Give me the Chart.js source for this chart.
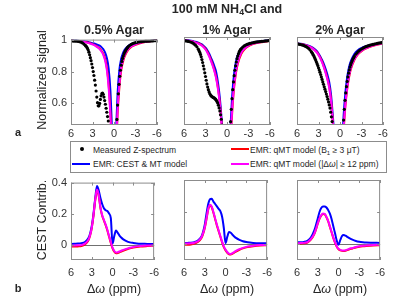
<!DOCTYPE html>
<html>
<head>
<meta charset="utf-8">
<script src="https://cdn.jsdelivr.net/npm/chart.js@4.4.1/dist/chart.umd.min.js"></script>
<style>
  body { margin: 0; background: #fff; }
  #page { position: relative; width: 400px; height: 300px; overflow: hidden;
          font-family: "Liberation Sans", Arial, sans-serif; color: #262626; }
  #page canvas { position: absolute; }
  .t { position: absolute; white-space: nowrap; line-height: 1; }
  .c { transform: translate(-50%, -50%); }
  .b { font-weight: bold; }
  .rot { transform: translate(-50%, -50%) rotate(-90deg); }
  sub { font-size: 0.7em; vertical-align: -0.3em; line-height: 0; }
  #legend { position: absolute; left: 70px; top: 141px; width: 315px; height: 30px;
            border: 1px solid #8c8c8c; background: #fff; }
  .lg { position: absolute; font-size: 8.5px; transform: translateY(-50%); white-space: nowrap; line-height: 1; }
  .sw { position: absolute; height: 2px; width: 18px; }
  .dot { position: absolute; width: 4px; height: 4px; border-radius: 50%; background: #000; }
</style>
</head>
<body>
<div id="page">
  <canvas id="z05"></canvas>
  <canvas id="z1"></canvas>
  <canvas id="z2"></canvas>
  <canvas id="c05"></canvas>
  <canvas id="c1"></canvas>
  <canvas id="c2"></canvas>

  <div class="t c b" style="left:227px;top:9px;font-size:12.5px;">100 mM NH<sub>4</sub>Cl and</div>
  <div class="t c b" style="left:114px;top:30px;font-size:12.5px;">0.5% Agar</div>
  <div class="t c b" style="left:227px;top:30px;font-size:12.5px;">1% Agar</div>
  <div class="t c b" style="left:340px;top:30px;font-size:12.5px;">2% Agar</div>

  <div class="t rot" style="left:42px;top:80px;font-size:12.5px;">Normalized signal</div>
  <div class="t rot" style="left:42px;top:220px;font-size:12.5px;">CEST Contrib.</div>

  <div class="t c" style="left:114px;top:289px;font-size:12.5px;">&Delta;<i>&omega;</i> (ppm)</div>
  <div class="t c" style="left:227px;top:289px;font-size:12.5px;">&Delta;<i>&omega;</i> (ppm)</div>
  <div class="t c" style="left:340px;top:289px;font-size:12.5px;">&Delta;<i>&omega;</i> (ppm)</div>

  <div class="t c b" style="left:18px;top:132px;font-size:11px;">a</div>
  <div class="t c b" style="left:18px;top:288px;font-size:11px;">b</div>

  <div id="legend"></div>
  <div class="dot" style="left:80px;top:147.3px;"></div>
  <div class="lg" style="left:93px;top:149.5px;">Measured Z-spectrum</div>
  <div class="sw" style="left:72px;top:163px;background:#0000ff;"></div>
  <div class="lg" style="left:93px;top:164px;">EMR: CEST &amp; MT model</div>
  <div class="sw" style="left:231px;top:148px;background:#ff0000;"></div>
  <div class="lg" style="left:250px;top:149.5px;">EMR: qMT model (B<sub>1</sub> &ge; 3 &mu;T)</div>
  <div class="sw" style="left:231px;top:163px;background:#ff00ff;"></div>
  <div class="lg" style="left:250px;top:164px;">EMR: qMT model (|&Delta;<i>&omega;</i>| &ge; 12 ppm)</div>
</div>

<script>
// frequency offsets (ppm)
const offsetsMeasured = [6,5.8,5.6,5.4,5.2,5,4.8,4.6,4.4,4.2,
  4,3.9,3.8,3.7,3.6,3.5,3.4,3.3,3.2,3.1,3,2.9,2.8,2.7,2.6,2.5,2.4,2.3,2.2,2.1,
  2,1.9,1.8,1.7,1.6,1.5,1.4,1.3,1.2,1.1,1,0.9,0.8,0.7,0.6,0.5,0.4,0.3,0.2,0.1,
  0,-0.1,-0.2,-0.3,-0.4,-0.5,-0.6,-0.7,-0.8,-0.9,-1,-1.1,-1.2,-1.3,-1.4,-1.5,-1.6,-1.7,-1.8,-1.9,-2,
  -2.2,-2.4,-2.6,-2.8,-3,-3.2,-3.4,-3.6,-3.8,-4,-4.2,-4.4,-4.6,-4.8,-5,-5.2,-5.4,-5.6,-5.8,-6];
const offsetsModel = [6,5.5,5,4.5,4,3.5,3.25,3,2.75,2.5,2.25,2,1.75,1.5,1.25,1,0.75,0.5,0.25,0,
  -0.25,-0.5,-0.75,-1,-1.25,-1.5,-2,-2.5,-3,-3.5,-4,-5,-6];

const xTicks = [6, 3, 0, -3, -6];
const zTicks = [0.6, 0.8, 1];
const cestTicks = [0, 0.2, 0.4];

// measured Z-spectra
const measured05 = [0.992,0.992,0.991,0.991,0.990,0.989,0.987,0.984,0.979,0.972,
  0.964,0.959,0.953,0.945,0.935,0.921,0.905,0.887,0.868,0.847,
  0.825,0.800,0.775,0.746,0.715,0.678,0.640,0.605,0.585,0.585,
  0.600,0.625,0.648,0.661,0.665,0.657,0.640,0.618,0.595,0.570,
  0.545,0.518,0.490,0.450,0.400,0.340,0.280,0.200,0.120,0.060,
  0.040,0.100,0.220,0.370,0.500,0.590,0.660,0.720,0.770,0.808,
  0.840,0.863,0.882,0.897,0.910,0.921,0.930,0.938,0.945,0.951,0.956,
  0.964,0.970,0.975,0.978,0.981,0.983,0.985,0.986,0.987,0.988,
  0.989,0.990,0.990,0.991,0.991,0.992,0.992,0.993,0.993,0.994];
const measured1 = [0.978,0.977,0.975,0.973,0.971,0.968,0.964,0.958,0.950,0.940,
  0.926,0.917,0.907,0.894,0.880,0.863,0.845,0.825,0.805,0.782,
  0.760,0.737,0.715,0.696,0.680,0.666,0.655,0.647,0.642,0.638,
  0.635,0.632,0.630,0.626,0.622,0.616,0.608,0.598,0.585,0.569,
  0.550,0.527,0.500,0.465,0.420,0.365,0.300,0.230,0.160,0.115,
  0.100,0.140,0.220,0.310,0.400,0.485,0.560,0.625,0.680,0.727,
  0.765,0.798,0.825,0.848,0.868,0.884,0.898,0.909,0.918,0.925,0.930,
  0.939,0.946,0.951,0.955,0.958,0.961,0.963,0.965,0.967,0.969,
  0.970,0.971,0.972,0.973,0.974,0.975,0.976,0.977,0.978,0.979];
const measured2 = [0.958,0.957,0.955,0.953,0.950,0.947,0.943,0.938,0.931,0.922,
  0.911,0.904,0.897,0.889,0.880,0.870,0.860,0.849,0.838,0.826,
  0.813,0.800,0.786,0.772,0.757,0.742,0.727,0.712,0.697,0.683,
  0.668,0.653,0.638,0.622,0.605,0.587,0.568,0.543,0.515,0.486,
  0.455,0.423,0.390,0.355,0.320,0.280,0.240,0.205,0.180,0.170,
  0.170,0.200,0.260,0.340,0.420,0.495,0.560,0.615,0.660,0.698,
  0.730,0.757,0.780,0.800,0.817,0.832,0.845,0.856,0.866,0.874,0.882,
  0.895,0.905,0.914,0.921,0.927,0.932,0.937,0.941,0.944,0.947,
  0.950,0.953,0.955,0.957,0.959,0.961,0.963,0.964,0.966,0.967];

// model Z-spectra
const zCestMt05 = [0.995,0.994,0.993,0.991,0.988,0.984,0.981,0.978,0.975,0.972,0.967,0.962,0.953,0.940,0.920,0.885,0.820,0.680,0.400,0.100,0.380,0.660,0.810,0.880,0.915,0.937,0.962,0.974,0.980,0.985,0.988,0.992,0.995];
const zQmtB1_05 = [0.993,0.992,0.990,0.988,0.985,0.980,0.976,0.972,0.967,0.961,0.953,0.944,0.930,0.912,0.880,0.825,0.720,0.540,0.290,0.080,0.260,0.530,0.700,0.805,0.860,0.896,0.937,0.957,0.968,0.976,0.982,0.989,0.994];
const zQmtDw05 = [0.993,0.992,0.990,0.987,0.984,0.978,0.974,0.970,0.965,0.958,0.950,0.940,0.925,0.905,0.870,0.810,0.700,0.520,0.280,0.080,0.280,0.560,0.720,0.820,0.870,0.905,0.942,0.960,0.970,0.978,0.983,0.990,0.994];

const zCestMt1 = [0.982,0.980,0.977,0.972,0.966,0.955,0.946,0.935,0.920,0.900,0.875,0.850,0.820,0.785,0.720,0.630,0.500,0.330,0.150,0.080,0.220,0.460,0.660,0.780,0.850,0.890,0.930,0.948,0.958,0.965,0.969,0.975,0.980];
const zQmtB1_1 = [0.980,0.978,0.975,0.969,0.962,0.950,0.940,0.928,0.911,0.889,0.862,0.832,0.797,0.752,0.688,0.600,0.470,0.315,0.140,0.070,0.180,0.380,0.560,0.695,0.780,0.836,0.898,0.928,0.945,0.955,0.962,0.970,0.977];
const zQmtDw1 = [0.980,0.977,0.974,0.968,0.960,0.947,0.937,0.924,0.906,0.883,0.855,0.825,0.790,0.745,0.680,0.590,0.460,0.310,0.140,0.070,0.190,0.400,0.580,0.710,0.790,0.845,0.905,0.932,0.948,0.957,0.963,0.971,0.977];

const zCestMt2 = [0.962,0.959,0.955,0.949,0.940,0.925,0.915,0.900,0.882,0.860,0.835,0.805,0.770,0.725,0.650,0.520,0.380,0.270,0.190,0.160,0.320,0.520,0.660,0.755,0.815,0.852,0.897,0.920,0.933,0.942,0.949,0.958,0.966];
const zQmtB1_2 = [0.960,0.957,0.953,0.946,0.937,0.920,0.909,0.893,0.874,0.850,0.820,0.786,0.746,0.697,0.617,0.485,0.355,0.250,0.180,0.150,0.240,0.425,0.580,0.682,0.752,0.803,0.860,0.894,0.914,0.928,0.937,0.951,0.961];
const zQmtDw2 = [0.960,0.956,0.952,0.945,0.935,0.918,0.906,0.890,0.870,0.845,0.815,0.780,0.740,0.690,0.610,0.480,0.350,0.250,0.180,0.150,0.250,0.440,0.590,0.690,0.760,0.810,0.865,0.898,0.917,0.930,0.939,0.952,0.962];

// CEST contribution
const cestCestMt05 = [0.004,0.005,0.006,0.009,0.016,0.040,0.070,0.120,0.200,0.300,0.378,0.350,0.300,0.262,0.235,0.222,0.216,0.200,0.170,0.005,0.055,0.090,0.075,0.058,0.045,0.035,0.022,0.014,0.010,0.007,0.005,0.004,0.003];
const cestQmtB1_05 = [-0.013,-0.013,-0.012,-0.010,0.000,0.025,0.056,0.106,0.186,0.286,0.350,0.315,0.236,0.186,0.155,0.125,0.090,0.050,0.010,-0.025,-0.047,-0.057,-0.055,-0.050,-0.045,-0.040,-0.032,-0.025,-0.020,-0.016,-0.013,-0.010,-0.008];
const cestQmtDw05 = [-0.006,-0.006,-0.005,-0.003,0.006,0.030,0.060,0.110,0.190,0.290,0.355,0.320,0.240,0.190,0.160,0.130,0.095,0.055,0.015,-0.020,-0.042,-0.052,-0.050,-0.045,-0.040,-0.036,-0.028,-0.021,-0.016,-0.012,-0.010,-0.007,-0.005];

const cestCestMt1 = [0.006,0.007,0.008,0.012,0.022,0.045,0.075,0.120,0.190,0.250,0.280,0.283,0.265,0.250,0.235,0.220,0.205,0.170,0.100,0.005,0.045,0.075,0.070,0.058,0.047,0.038,0.026,0.017,0.012,0.009,0.007,0.005,0.004];
const cestQmtB1_1 = [-0.004,-0.004,-0.003,0.002,0.012,0.036,0.062,0.100,0.156,0.216,0.241,0.230,0.195,0.155,0.115,0.080,0.045,0.010,-0.020,-0.040,-0.055,-0.065,-0.066,-0.061,-0.054,-0.047,-0.036,-0.027,-0.021,-0.017,-0.014,-0.010,-0.008];
const cestQmtDw1 = [0.003,0.003,0.004,0.008,0.017,0.040,0.066,0.105,0.160,0.220,0.245,0.235,0.200,0.160,0.120,0.085,0.050,0.015,-0.015,-0.035,-0.050,-0.060,-0.062,-0.057,-0.050,-0.043,-0.032,-0.024,-0.018,-0.014,-0.011,-0.007,-0.005];

const cestCestMt2 = [0.010,0.011,0.013,0.020,0.040,0.085,0.120,0.160,0.200,0.225,0.235,0.235,0.228,0.212,0.190,0.155,0.110,0.065,0.020,-0.005,0.025,0.050,0.056,0.052,0.045,0.038,0.027,0.019,0.014,0.011,0.009,0.008,0.007];
const cestQmtB1_2 = [0.002,0.003,0.004,0.009,0.027,0.062,0.092,0.127,0.157,0.177,0.187,0.185,0.167,0.142,0.107,0.072,0.037,0.007,-0.018,-0.033,-0.040,-0.043,-0.044,-0.042,-0.038,-0.034,-0.028,-0.022,-0.017,-0.014,-0.012,-0.009,-0.007];
const cestQmtDw2 = [0.005,0.006,0.007,0.012,0.030,0.065,0.095,0.130,0.160,0.180,0.190,0.188,0.170,0.145,0.110,0.075,0.040,0.010,-0.015,-0.030,-0.037,-0.040,-0.041,-0.039,-0.035,-0.031,-0.025,-0.019,-0.014,-0.011,-0.009,-0.006,-0.004];

const FONT = '"Liberation Sans", Arial, sans-serif';
const AXIS_W = 34, AXIS_H = 22, PAD = 8;
const BLUE = '#0000ff', RED = '#ff0000', MAGENTA = '#ff00ff';

function pts(xs, ys) {
  return xs.map((x, i) => ({ x: x, y: ys[i] }));
}

function dots(ys) {
  return { data: pts(offsetsMeasured, ys), showLine: false, pointRadius: 1.6,
           pointBackgroundColor: '#000', pointBorderWidth: 0 };
}

function line(ys, color) {
  return { data: pts(offsetsModel, ys), showLine: true, borderColor: color, borderWidth: 2,
           pointRadius: 0, cubicInterpolationMode: 'monotone' };
}

// box outline, inner tick marks and the zero line
const framePlugin = {
  id: 'frame',
  beforeDatasetsDraw(chart, args, opts) {
    if (!opts.zeroLine) return;
    const a = chart.chartArea, ctx = chart.ctx;
    const py = Math.round(chart.scales.y.getPixelForValue(0)) + 0.5;
    ctx.save();
    ctx.strokeStyle = '#707070';
    ctx.lineWidth = 1;
    ctx.beginPath();
    ctx.moveTo(a.left, py);
    ctx.lineTo(a.right, py);
    ctx.stroke();
    ctx.restore();
  },
  afterDraw(chart) {
    const a = chart.chartArea, ctx = chart.ctx;
    const x = chart.scales.x, y = chart.scales.y;
    ctx.save();
    ctx.strokeStyle = '#8c8c8c';
    ctx.lineWidth = 1;
    ctx.strokeRect(a.left + 0.5, a.top + 0.5, a.right - a.left - 1, a.bottom - a.top - 1);
    ctx.beginPath();
    x.ticks.forEach(t => {
      const px = Math.round(x.getPixelForValue(t.value)) + 0.5;
      ctx.moveTo(px, a.bottom); ctx.lineTo(px, a.bottom - 3);
      ctx.moveTo(px, a.top); ctx.lineTo(px, a.top + 3);
    });
    y.ticks.forEach(t => {
      const py = Math.round(y.getPixelForValue(t.value)) + 0.5;
      ctx.moveTo(a.left, py); ctx.lineTo(a.left + 3, py);
      ctx.moveTo(a.right, py); ctx.lineTo(a.right - 3, py);
    });
    ctx.stroke();
    ctx.restore();
  }
};

function panel(id, box, yMin, yMax, yTicks, showY, labelPad, zeroLine, datasets) {
  const cv = document.getElementById(id);
  cv.width = AXIS_W + box.w + PAD;
  cv.height = PAD + box.h + AXIS_H;
  cv.style.left = (box.x - AXIS_W) + 'px';
  cv.style.top = (box.y - PAD) + 'px';
  return new Chart(cv, {
    type: 'scatter',
    data: { datasets: datasets },
    options: {
      responsive: false,
      animation: false,
      layout: { padding: { top: PAD, right: PAD, left: 0, bottom: 0 } },
      plugins: { legend: { display: false }, tooltip: { enabled: false }, frame: { zeroLine: zeroLine } },
      scales: {
        x: {
          type: 'linear', min: -6, max: 6, reverse: true,
          afterBuildTicks: s => { s.ticks = xTicks.map(v => ({ value: v })); },
          afterFit: s => { s.height = AXIS_H; },
          grid: { display: false, drawTicks: false }, border: { display: false },
          ticks: { color: '#333', font: { size: 11, family: FONT }, padding: labelPad,
                   maxRotation: 0, autoSkip: false, callback: v => String(v) }
        },
        y: {
          type: 'linear', min: yMin, max: yMax,
          afterBuildTicks: s => { s.ticks = yTicks.map(v => ({ value: v })); },
          afterFit: s => { s.width = AXIS_W; },
          grid: { display: false, drawTicks: false }, border: { display: false },
          ticks: { display: showY, color: '#333', font: { size: 11, family: FONT }, padding: 4,
                   callback: v => String(v) }
        }
      }
    },
    plugins: [framePlugin]
  });
}

const topBoxes = [{ x: 71, y: 37, w: 86, h: 88 }, { x: 184, y: 37, w: 86, h: 88 }, { x: 297, y: 37, w: 86, h: 88 }];
const bottomBoxes = [{ x: 71, y: 180, w: 86, h: 80 }, { x: 184, y: 180, w: 86, h: 80 }, { x: 297, y: 180, w: 86, h: 80 }];

panel('z05', topBoxes[0], 0.465, 1, zTicks, true, 2, false,
  [dots(measured05), line(zQmtDw05, MAGENTA), line(zQmtB1_05, RED), line(zCestMt05, BLUE)]);
panel('z1', topBoxes[1], 0.465, 1, zTicks, false, 2, false,
  [dots(measured1), line(zQmtDw1, MAGENTA), line(zQmtB1_1, RED), line(zCestMt1, BLUE)]);
panel('z2', topBoxes[2], 0.465, 1, zTicks, false, 2, false,
  [dots(measured2), line(zQmtDw2, MAGENTA), line(zQmtB1_2, RED), line(zCestMt2, BLUE)]);

panel('c05', bottomBoxes[0], -0.1, 0.4, cestTicks, true, 6, true,
  [line(cestQmtDw05, MAGENTA), line(cestQmtB1_05, RED), line(cestCestMt05, BLUE)]);
panel('c1', bottomBoxes[1], -0.1, 0.4, cestTicks, false, 6, true,
  [line(cestQmtDw1, MAGENTA), line(cestQmtB1_1, RED), line(cestCestMt1, BLUE)]);
panel('c2', bottomBoxes[2], -0.1, 0.4, cestTicks, false, 6, true,
  [line(cestQmtDw2, MAGENTA), line(cestQmtB1_2, RED), line(cestCestMt2, BLUE)]);
</script>
</body>
</html>
